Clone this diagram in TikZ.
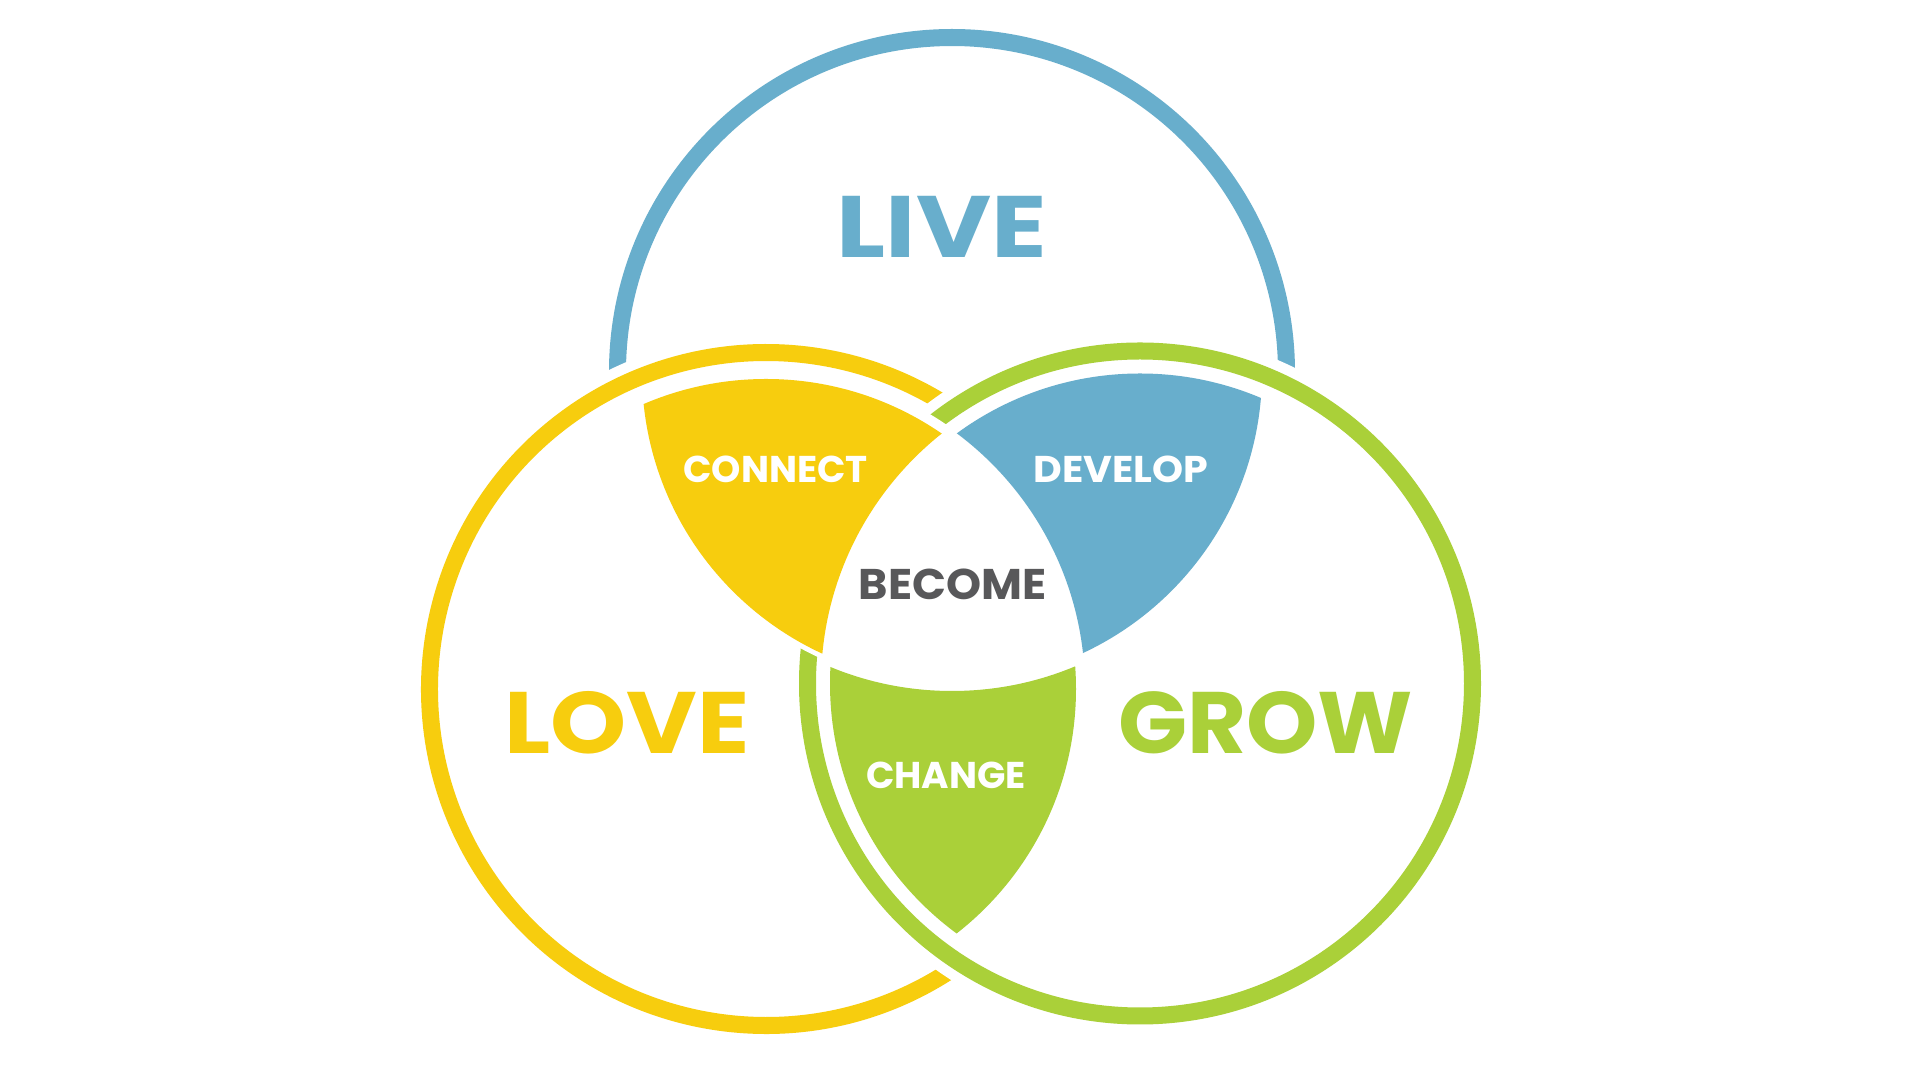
\documentclass[tikz,border=0pt]{standalone}
\usepackage{graphicx}
\usepackage{fontspec}
\setmainfont{Poppins}

\definecolor{liveblue}{HTML}{68AECC}
\definecolor{loveyellow}{HTML}{F7CD0E}
\definecolor{growgreen}{HTML}{AAD039}
\definecolor{becomegray}{HTML}{58585A}

\tikzset{
  ring/.style={draw=#1, line width=1.7mm, preaction={draw=white, line width=3.8mm}},
  bigword/.style={font=\fontsize{24.8}{26}\selectfont\bfseries, inner sep=0pt},
  midword/.style={font=\fontsize{12.2}{14}\selectfont\bfseries, inner sep=0pt, text=becomegray},
  smallword/.style={font=\fontsize{10.6}{12}\selectfont\bfseries, inner sep=0pt, text=white},
}

\begin{document}
\begin{tikzpicture}[x=0.01cm, y=-0.01cm]
\useasboundingbox[fill=white] (0,0) rectangle (1920,1080);

\coordinate (live) at (952,372);
\coordinate (love) at (766,689);
\coordinate (grow) at (1140,683.5);

\draw[ring=liveblue] (live) ++(177.1:334.5) arc[start angle=177.1, end angle=361.8, radius=334.5];
\draw[ring=loveyellow] (love) ++(55.5:336.5) arc[start angle=55.5, end angle=303, radius=336.5];
\draw[ring=growgreen] (grow) circle[radius=332.5];

\begin{scope}
  \clip (love) circle[radius=320];
  \clip (live) circle[radius=315];
  \fill[white, even odd rule] (0,0) rectangle (1920,1080) (grow) circle[radius=309];
\end{scope}

\begin{scope}
  \clip (love) circle[radius=310];
  \clip (live) circle[radius=310];
  \fill[loveyellow, even odd rule] (0,0) rectangle (1920,1080) (grow) circle[radius=319];
\end{scope}
\begin{scope}
  \clip (live) circle[radius=310];
  \clip (grow) circle[radius=310];
  \fill[liveblue, even odd rule] (0,0) rectangle (1920,1080) (love) circle[radius=319];
\end{scope}
\begin{scope}
  \clip (love) circle[radius=310];
  \clip (grow) circle[radius=310];
  \fill[growgreen, even odd rule] (0,0) rectangle (1920,1080) (live) circle[radius=319];
\end{scope}

\node[bigword, text=liveblue] (livelabel) at (942,226.5) {\scalebox{1.18}[1]{LIVE}};
\node[bigword, text=loveyellow] (lovelabel) at (627,722.4) {\scalebox{1.11}[1]{LOVE}};
\node[bigword, text=growgreen] (growlabel) at (1265.5,722.4) {\scalebox{1.04}[1]{GROW}};
\node[midword] (become) at (952.7,584) {\scalebox{1.04}[1]{BECOME}};
\node[smallword] (connect) at (775.5,469.5) {CONNECT};
\node[smallword] (develop) at (1121,469.5) {\scalebox{1.06}[1]{DEVELOP}};
\node[smallword] (change) at (946,775.5) {CHANGE};
\end{tikzpicture}
\end{document}
